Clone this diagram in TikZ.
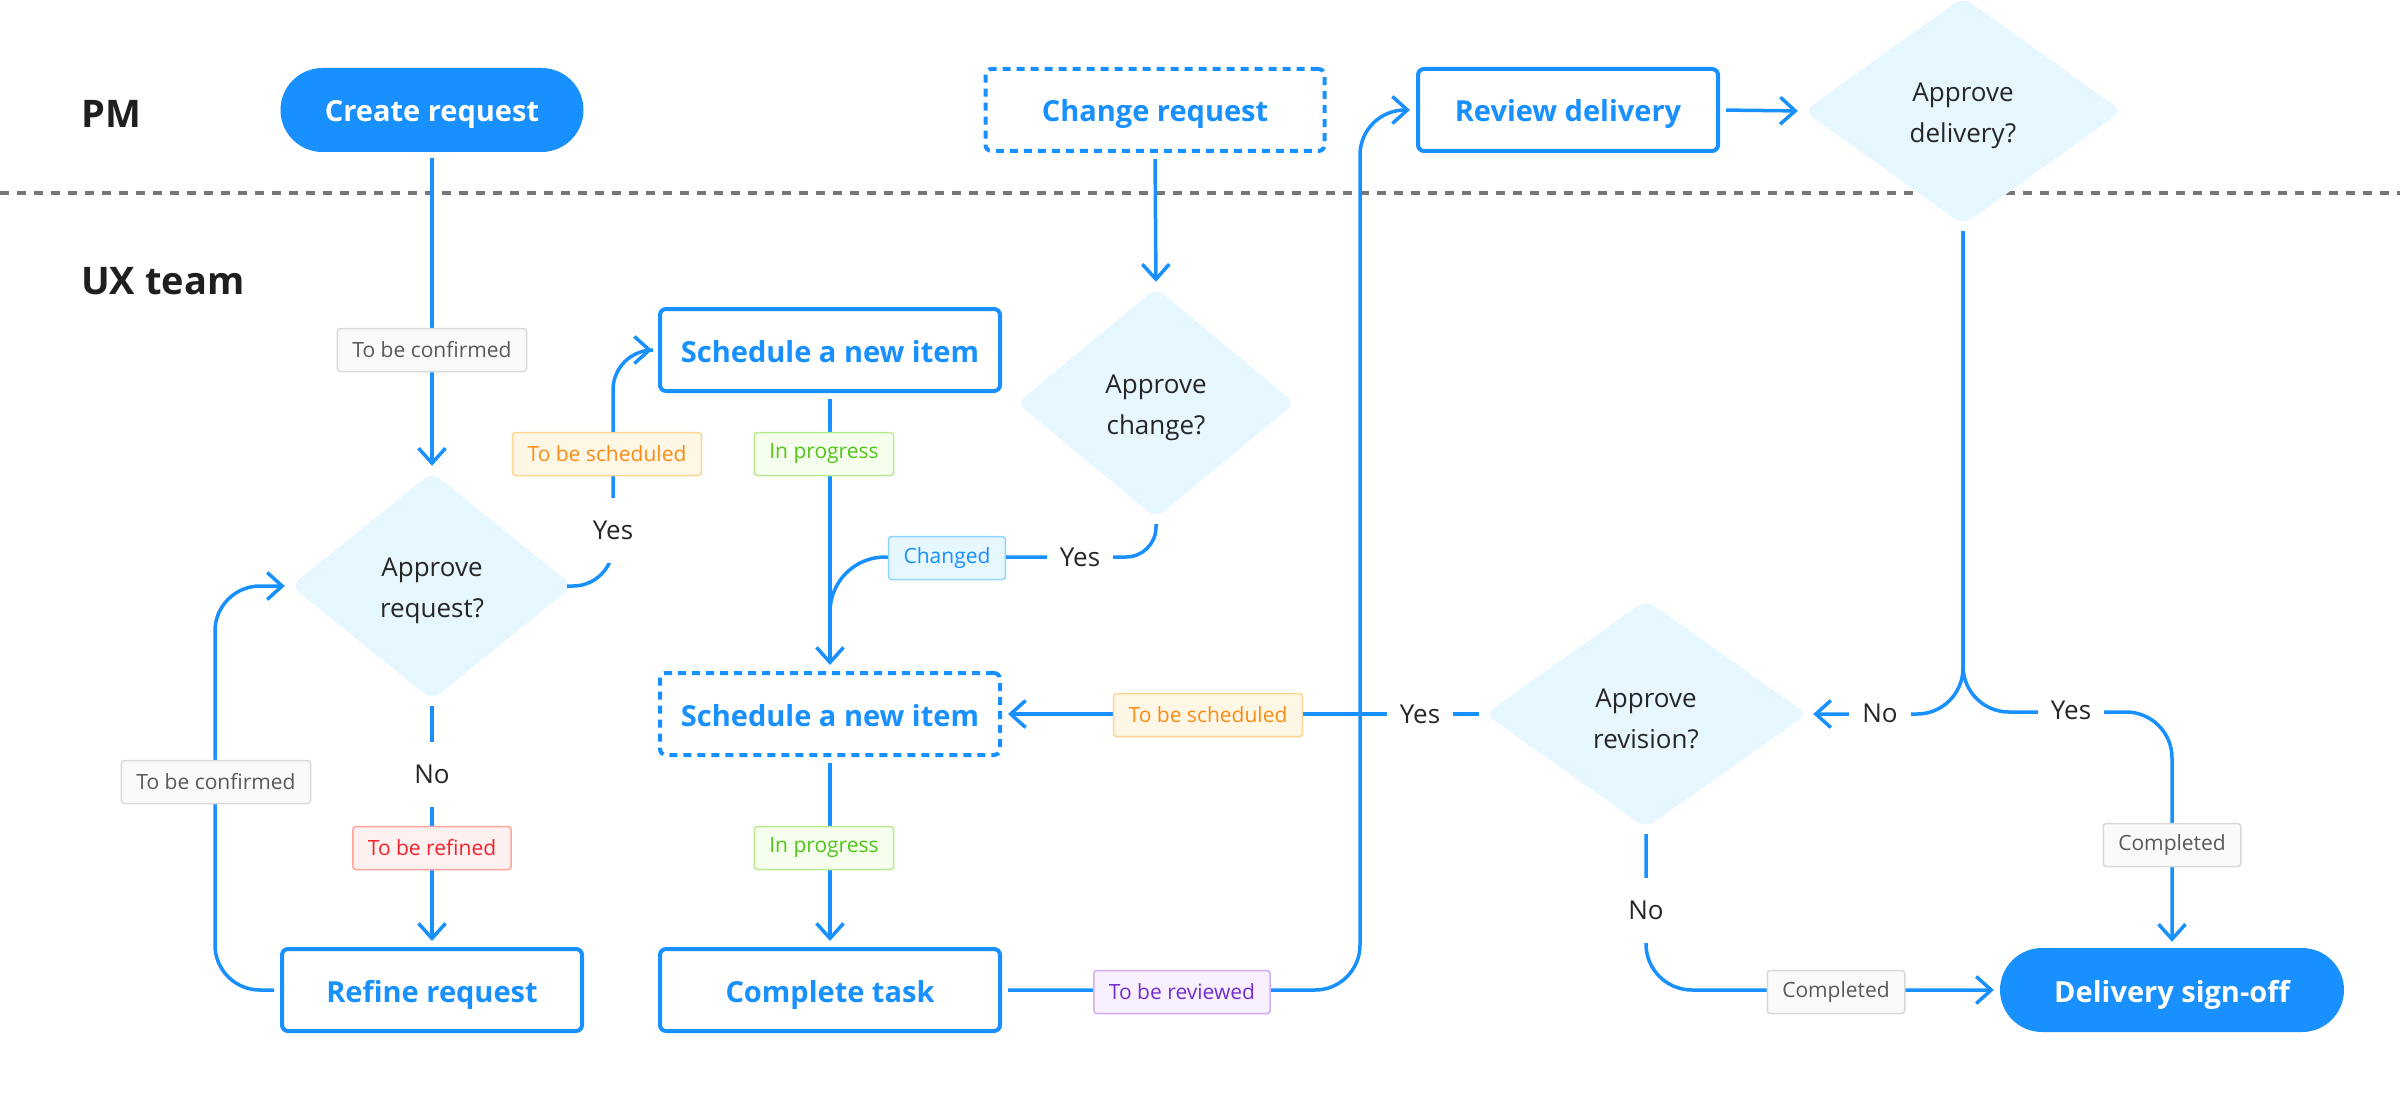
\documentclass[tikz,border=0pt]{standalone}
\usepackage{fontspec}
\setmainfont{Open Sans}
\usetikzlibrary{shapes.geometric,arrows.meta}
\definecolor{brand}{HTML}{1890FF}
\definecolor{dfill}{HTML}{E6F7FF}
\definecolor{ink}{HTML}{262626}
\definecolor{lane}{HTML}{1F1F1F}
\definecolor{sepc}{HTML}{777777}
\definecolor{gyF}{HTML}{FAFAFA}\definecolor{gyB}{HTML}{D9D9D9}\definecolor{gyT}{HTML}{595959}
\definecolor{orF}{HTML}{FFF7E6}\definecolor{orB}{HTML}{FFD591}\definecolor{orT}{HTML}{FA8C16}
\definecolor{grF}{HTML}{F6FFED}\definecolor{grB}{HTML}{B7EB8F}\definecolor{grT}{HTML}{52C41A}
\definecolor{blF}{HTML}{E6F7FF}\definecolor{blB}{HTML}{91D5FF}\definecolor{blT}{HTML}{1890FF}
\definecolor{rdF}{HTML}{FFF1F0}\definecolor{rdB}{HTML}{FFA39E}\definecolor{rdT}{HTML}{F5222D}
\definecolor{puF}{HTML}{F9F0FF}\definecolor{puB}{HTML}{D3ADF7}\definecolor{puT}{HTML}{722ED1}
\newcommand\dlow[1]{\raisebox{-5pt}[\height][\depth]{#1}}
\newcommand\dlines[2]{\dlow{#1}\\\dlow{#2}}
\begin{document}
\begin{tikzpicture}[x=1pt,y=-1pt,
  lanelbl/.style={anchor=west,inner sep=0pt,font=\fontsize{38}{40}\selectfont\bfseries,text=lane},
  pill/.style={rectangle,rounded corners=42pt,fill=brand,text=white,minimum height=84pt,text height=24pt,text depth=0pt,font=\fontsize{29}{32}\selectfont\bfseries},
  taskbox/.style={rectangle,rounded corners=6pt,draw=brand,line width=4pt,fill=white,text=brand,minimum height=82pt,text height=24pt,text depth=0pt,font=\fontsize{29}{32}\selectfont\bfseries},
  dashbox/.style={taskbox,dash pattern=on 8pt off 6pt},
  decision/.style={diamond,fill=dfill,rounded corners=10pt,text=ink,align=center,font=\fontsize{26}{41}\selectfont,inner sep=0pt},
  conn/.style={draw=brand,line width=3.5pt,shorten <=6pt},
  arr/.style={conn,-{Straight Barb[length=15pt,width=27pt]},shorten >=6pt},
  tag/.style={rectangle,rounded corners=3pt,line width=1.5pt,minimum height=43pt,inner xsep=15pt,font=\fontsize{21}{24}\selectfont},
  tgray/.style={tag,draw=gyB,fill=gyF,text=gyT},
  torange/.style={tag,draw=orB,fill=orF,text=orT},
  tgreen/.style={tag,draw=grB,fill=grF,text=grT},
  tblue/.style={tag,draw=blB,fill=blF,text=blT},
  tred/.style={tag,draw=rdB,fill=rdF,text=rdT},
  tpurple/.style={tag,draw=puB,fill=puF,text=puT},
  yn/.style={fill=white,text=ink,font=\fontsize{26}{28}\selectfont,inner xsep=13pt,minimum height=65pt}
]
\useasboundingbox (0,0) rectangle (2400,1102);
% lane separator
\draw[sepc,line width=3.5pt,dash pattern=on 9pt off 8pt] (0,193) -- (2400,193);
% lane labels
\node[lanelbl] (pm) at (81,114) {PM};
\node[lanelbl] (ux) at (81,281) {UX team};
% main nodes
\node[pill,minimum width=303pt] (cr) at (432,110) {Create request};
\node[dashbox,minimum width=339pt] (chg) at (1155,110) {Change request};
\node[taskbox,minimum width=300pt] (rev) at (1568,110) {Review delivery};
\node[decision,minimum width=318pt,minimum height=228pt] (ad) at (1963,111) {\dlines{Approve}{delivery?}};
\node[taskbox,minimum width=340pt] (s1) at (830,350) {Schedule a new item};
\node[decision,minimum width=278pt,minimum height=230pt] (ac) at (1156,403) {\dlines{Approve}{change?}};
\node[decision,minimum width=282pt,minimum height=228pt] (ar) at (432,586) {\dlines{Approve}{request?}};
\node[dashbox,minimum width=340pt] (s2) at (830,714) {Schedule a new item};
\node[decision,minimum width=322pt,minimum height=228pt] (arv) at (1646,714) {\dlines{Approve}{revision?}};
\node[taskbox,minimum width=300pt] (ref) at (432,990) {Refine request};
\node[taskbox,minimum width=340pt] (ct) at (830,990) {Complete task};
\node[pill,minimum width=344pt] (ds) at (2172,990) {Delivery sign-off};
% connectors
\draw[arr] (cr.south) -- (ar.north);
\draw[arr,rounded corners=40pt] (ar.east) -| (613,350) -- (s1.west);
\draw[arr] (s1.south) -- (s2.north);
\draw[arr] (chg.south) -- (ac.north);
\draw[conn,rounded corners=30pt] (ac.south) -- (1156,557) [rounded corners=55pt] -- (830,557) -- (830,660);
\draw[arr] (s2.south) -- (ct.north);
\draw[arr,rounded corners=45pt] (ct.east) -| (1360,110) -- (rev.west);
\draw[arr] (rev.east) -- (ad.west);
\draw[arr,rounded corners=46pt] (ad.south) |- (arv.east);
\draw[arr,rounded corners=46pt] (ad.south) -- (1963,712) -| (ds.north);
\draw[arr] (arv.west) -- (s2.east);
\draw[arr,rounded corners=46pt] (arv.south) |- (ds.west);
\draw[arr] (ar.south) -- (ref.north);
\draw[arr,rounded corners=45pt] (ref.west) -- ++(-65,0) |- (ar.west);
% labels
\node[tgray] (l1) at (432,350) {To be confirmed};
\node[torange] (l2) at (607,454) {To be scheduled};
\node[yn] (y1) at (613,530) {Yes};
\node[tgreen] (l3) at (824,454) {In progress};
\node[yn] (y2) at (1080,557) {Yes};
\node[tblue] (l4) at (947,558) {Changed};
\node[tpurple] (l5) at (1182,992) {To be reviewed};
\node[yn] (n1) at (1880,713) {No};
\node[yn] (y3) at (2071,710) {Yes};
\node[tgray] (l6) at (2172,845) {Completed};
\node[yn] (y4) at (1420,714) {Yes};
\node[torange] (l7) at (1208,715) {To be scheduled};
\node[yn] (n2) at (1646,910) {No};
\node[tgray] (l8) at (1836,992) {Completed};
\node[yn] (n3) at (432,774) {No};
\node[tred] (l9) at (432,848) {To be refined};
\node[tgray] (l10) at (216,782) {To be confirmed};
\node[tgreen] (l11) at (824,848) {In progress};
\end{tikzpicture}
\end{document}
